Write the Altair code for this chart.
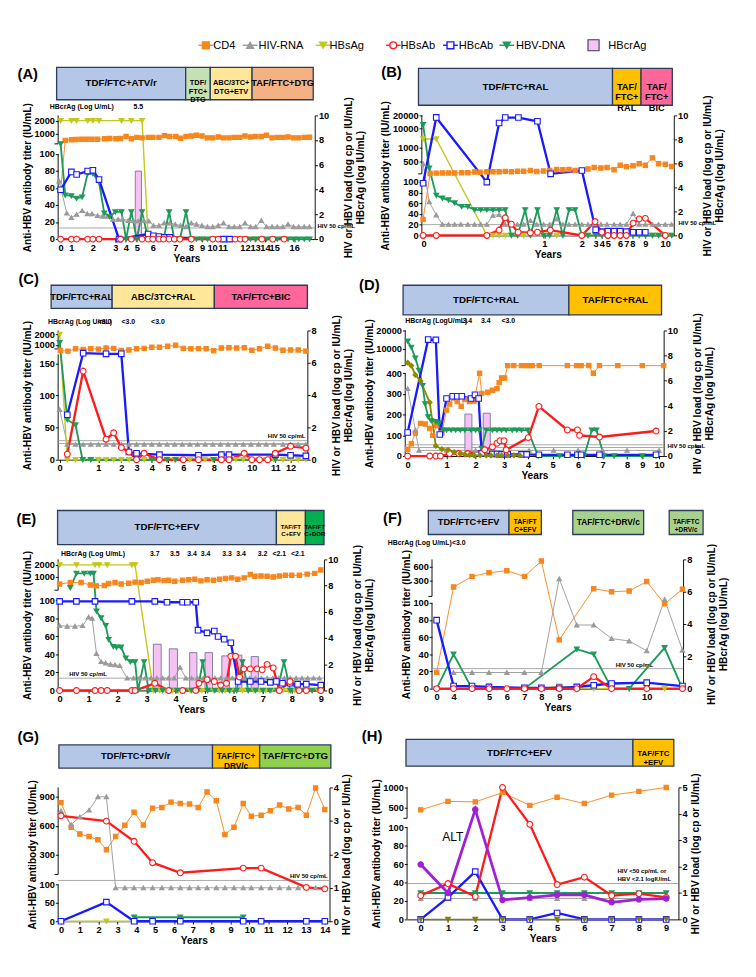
import altair as alt
import numpy as np
import pandas as pd

FONT = "Liberation Sans"

# ---------------- series styling: stroke, fill, shape, line width, marker size ----------------
STYLE = {
    "CD4": ("#f7861c", "#f7861c", "square", 1.0, 22),
    "HIV-RNA": ("#9a9a9a", "#9a9a9a", "triangle-up", 1.0, 22),
    "HBsAg": ("#c2c81c", "#c2c81c", "triangle-down", 1.5, 28),
    "HBV-DNA": ("#1e9a5a", "#1e9a5a", "triangle-down", 2.0, 28),
    "HBcAb": ("#1a1aff", "#ffffff", "square", 2.5, 36),
    "HBsAb": ("#ff1a1a", "#ffffff", "circle", 2.5, 40),
}
DRAW_ORDER = ["CD4", "HIV-RNA", "HBsAg", "HBV-DNA", "HBcAb", "HBsAb"]
RIGHT_AXIS = {"HIV-RNA", "HBV-DNA", "ALT"}
CRAG_FILL, CRAG_STROKE = "#f6c2f3", "#7a7a99"

# legend (top of figure)
LEG_LABELS = ["CD4", "HIV-RNA", "HBsAg", "HBsAb", "HBcAb", "HBV-DNA", "HBcrAg"]
LEG_KEYS = ["CD4", "HIV-RNA", "HBsAg", "HBsAb", "HBcAb", "HBV-DNA", None]
LEG_SYM_X = [160, 208, 287, 363, 425, 486, 580]
LEG_TXT_X = [168, 217, 294, 371, 434, 496, 596]

BLUE, LGREEN, YELLOW, ORANGE = "#b4c7e7", "#c5e0b4", "#ffe699", "#f4b183"
GOLD, PINK, DGREEN, MGREEN, LIME = "#ffc000", "#ff6699", "#00b050", "#a9d18e", "#92d050"

RT2 = ["HIV or HBV load (log cp or IU/mL)", "HBcrAg (log IU/mL)"]
RT1 = "HIV or HBV load (log cp or IU/mL)"

# ================= Panel A =================
A_XTICK_POS = [170, 205, 275, 348, 382, 418, 470, 543, 595, 630, 663, 697, 770, 803, 835, 865, 930]
A_XTICK_LAB = ["0", "1", "2", "3", "4", "5", "6", "7", "8", "9", "10", "11", "12", "13", "14", "15", "16"]
A_REG_X0 = [157, 577, 657, 793]
A_REG_X1 = [577, 657, 793, 992]
A_REG_TXT = ["TDF/FTC+ATV/r", "TDF/\nFTC+\nDTG", "ABC/3TC+\nDTG+ETV", "TAF/FTC+DTG"]
A_REG_COL = [BLUE, LGREEN, YELLOW, ORANGE]
A_DATA = {
    "CD4": ([170, 185, 205, 220, 237, 255, 272, 290, 313, 330, 350, 365, 383, 400, 418, 435, 455, 470, 490, 508,
             525, 545, 560, 578, 595, 612, 630, 648, 665, 683, 700, 718, 735, 753, 770, 788, 805, 823, 840, 858,
             875, 893, 910, 928, 945, 963, 980],
            [58, 700, 720, 730, 740, 740, 745, 740, 760, 770, 760, 770, 860, 760, 820, 800, 820, 820, 820, 900,
             860, 860, 780, 860, 880, 920, 880, 800, 800, 840, 800, 800, 820, 820, 880, 840, 860, 860, 920, 800,
             820, 820, 840, 800, 800, 820, 830]),
    "HIV-RNA": ([165, 190, 205, 222, 240, 257, 272, 290, 307, 323, 340, 357, 372, 390, 407, 422, 440, 457, 472, 490,
                 507, 525, 543, 560, 578, 595, 612, 630, 648, 665, 683, 700, 718, 735, 753, 770, 788, 805, 823, 840,
                 858, 875, 893, 910, 928, 945, 963, 980],
                [4.7, 2.1, 1.75, 2.0, 2.3, 2.05, 2.05, 1.9, 1.85, 1.85, 1.6, 1.6, 1.6, 1.5, 1.5, 1.45, 1.5, 1.45, 1.1, 1.1,
                 1.3, 1.3, 1.2, 1.1, 1.0, 1.3, 1.2, 1.1, 1.0, 1.0, 1.1, 1.3, 1.0, 1.0, 1.0, 1.3, 1.0, 1.0, 1.5, 1.0,
                 1.0, 1.0, 1.0, 1.2, 1.0, 1.0, 1.0, 1.0]),
    "HBsAg": ([170, 205, 222, 258, 275, 295, 368, 400, 435, 455, 472, 490, 507, 525, 543, 560, 595, 630, 665, 683,
               700, 738, 755, 770, 805, 823, 860, 897],
              [2000, 2000, 2000, 2000, 2000, 2000, 2000, 2000, 2000, 0, 0, 0, 0, 0, 0, 0, 0, 0, 0, 0,
               0, 0, 0, 0, 0, 0, 0, 0]),
    "HBsAb": ([170, 205, 222, 258, 275, 295, 365, 400, 435, 455, 470, 490, 505, 523, 540, 558, 595, 665, 683, 738,
               755, 770, 825, 860, 897],
              [0, 0, 0, 0, 0, 0, 0, 0, 0, 0, 0, 0, 0, 0, 0, 0, 0, 0, 0, 0, 0, 0, 0, 0, 0]),
    "HBcAb": ([170, 205, 222, 258, 275, 295, 360, 455, 472, 490, 507, 525, 700, 720],
              [58, 79, 76, 80, 81, 70, 0, 6, 4, 3, 2, 2, 0, 0]),
    "HBV-DNA": ([170, 185, 205, 222, 240, 258, 275, 295, 312, 330, 348, 368, 383, 400, 418, 435, 452, 470, 488, 505,
                 523, 540, 558, 578, 595, 612, 630, 648, 665, 683, 700, 718, 735, 753, 770, 788, 805, 823, 840, 858,
                 875, 893, 910, 928, 945, 963, 980],
                [7.7, 3.55, 3.5, 3.3, 3.4, 5.3, 5.3, 4.6, 2.1, 1.8, 2.2, 2.2, 0, 2.2, 0, 2.2, 0.3, 0, 0, 0,
                 2.2, 0, 0, 2.2, 0, 0, 0, 0, 0, 0, 0, 0, 0, 0, 0, 0, 0, 0, 0, 0,
                 0, 0, 0, 0, 0, 0, 0]),
}
A_BAR_X0, A_BAR_X1, A_BAR_V = [413], [433], [5.5]
A_CRAG_X, A_CRAG_T = [423], ["5.5"]
A_HIV50 = [0.9]

# ================= Panel B =================
B_XTICK_POS = [174, 568, 690, 735, 755, 775, 815, 835, 855, 897, 962]
B_XTICK_LAB = ["0", "1", "2", "3", "4", "5", "6", "7", "8", "9", "10"]
B_REG_X0 = [157, 790, 883]
B_REG_X1 = [790, 883, 985]
B_REG_TXT = ["TDF/FTC+RAL", "TAF/\nFTC+\nRAL", "TAF/\nFTC+\nBIC"]
B_REG_COL = [BLUE, GOLD, PINK]
B_DATA = {
    "CD4": ([172, 195, 215, 235, 255, 275, 298, 318, 340, 358, 380, 400, 420, 440, 460, 480, 500, 522, 543, 565,
             585, 608, 628, 648, 668, 688, 710, 730, 752, 772, 795, 815, 835, 857, 877, 897, 920, 940, 962, 983],
            [30, 280, 285, 287, 287, 287, 290, 290, 300, 297, 305, 305, 305, 310, 305, 312, 312, 325, 308, 315,
             325, 340, 335, 340, 325, 325, 350, 375, 365, 375, 335, 420, 390, 410, 450, 420, 600, 450, 440, 395]),
    "HIV-RNA": ([172, 192, 215, 235, 255, 275, 295, 318, 340, 360, 380, 400, 420, 440, 460, 480, 500, 522, 543, 565,
                 585, 608, 628, 648, 668, 690, 710, 730, 752, 772, 795, 815, 835, 857, 877, 897, 920, 940, 962, 983],
                [5.97, 2.8, 1.7, 0.92, 0.92, 0.92, 0.92, 0.92, 0.92, 0.92, 0.92, 1.67, 1.74, 0.92, 0.92, 0.92, 0.92,
                 1.23, 0.92, 0.92, 0.92, 1.36, 0.92, 0.92, 0.92, 0.92, 0.92, 0.92, 0.92, 0.92, 0.92, 0.92, 0.92,
                 1.82, 0.92, 0.92, 0.92, 0.92, 0.92, 0.92]),
    "HBsAg": ([172, 215, 380, 400, 420, 440, 460, 480, 500, 522, 565, 608, 690, 710, 735, 755, 775, 795, 815, 835,
               855, 877, 897, 920, 940, 962, 983],
              [2800, 2800, 0, 0, 0, 0, 0, 0, 0, 0, 0, 0, 0, 0, 0, 0, 0, 0, 0, 0, 0, 0, 0, 0, 0, 0, 0]),
    "HBsAb": ([172, 215, 380, 420, 440, 460, 482, 522, 545, 587, 690, 733, 755, 775, 795, 815, 835, 857, 877, 897, 962],
              [0, 0, 0, 10, 33, 21, 6, 5, 6, 10, 0, 26, 6, 0, 0, 0, 0, 23, 31, 32, 0]),
    "HBcAb": ([172, 215, 380, 420, 440, 483, 545, 588, 690, 735, 755, 775, 795, 815, 835, 857, 877, 897],
              [98, 18000, 100, 13400, 17900, 17900, 14700, 275, 324, 10.5, 7, 8, 8, 8, 7, 6, 6, 6]),
    "HBV-DNA": ([172, 192, 215, 235, 255, 275, 298, 318, 340, 360, 380, 400, 420, 440, 460, 480, 505, 522, 545, 565,
                 585, 608, 628, 648, 668, 690, 710, 735, 755, 775, 795, 815, 835, 857, 877, 897, 920, 940, 962, 983],
                [9.23, 5.6, 3.33, 3.1, 2.95, 2.7, 2.4, 2.4, 2.13, 2.13, 2.13, 2.13, 2.13, 2.13, 0, 0, 2.13, 0, 2.13, 0,
                 0, 2.13, 0, 2.13, 2.13, 0, 0, 0, 0, 0, 0, 0, 0, 0, 0, 0, 0, 0, 0, 0]),
}
B_BAR_X0, B_BAR_X1, B_BAR_V = [], [], []
B_CRAG_X, B_CRAG_T = [], []
B_HIV50 = [0.9]

# ================= Panel C =================
C_XTICK_POS = [188, 315, 390, 440, 490, 542, 593, 643, 693, 743, 818, 895, 945]
C_XTICK_LAB = ["0", "1", "2", "3", "4", "5", "6", "7", "8", "9", "10", "11", "12"]
C_REG_X0 = [160, 360, 695]
C_REG_X1 = [360, 695, 1000]
C_REG_TXT = ["TDF/FTC+RAL", "ABC/3TC+RAL", "TAF/FTC+BIC"]
C_REG_COL = [BLUE, YELLOW, PINK]
C_DATA = {
    "CD4": ([190, 215, 240, 265, 290, 315, 340, 365, 390, 415, 440, 465, 490, 515, 542, 568, 593, 618, 643, 668,
             693, 718, 743, 768, 793, 818, 843, 870, 895, 920, 945, 970, 995],
            [707, 680, 790, 760, 790, 775, 830, 815, 707, 735, 790, 815, 880, 880, 930, 1000, 815, 790, 800, 790,
             700, 830, 845, 830, 845, 720, 790, 930, 830, 720, 735, 735, 680]),
    "HIV-RNA": ([188, 213, 240, 265, 290, 315, 340, 365, 390, 415, 440, 465, 490, 515, 540, 565, 590, 615, 640, 665,
                 690, 715, 740, 765, 790, 815, 840, 865, 890, 920, 945, 970, 995],
                [3.1, 0.95, 0.95, 0.95, 0.95, 0.95, 0.95, 0.95, 0.95, 0.95, 0.95, 0.95, 0.95, 0.95, 0.95, 0.95, 0.95,
                 0.95, 0.95, 0.95, 0.95, 0.95, 0.95, 0.95, 0.95, 0.95, 0.95, 0.95, 0.95, 0.95, 0.95, 0.95, 0.95]),
    "HBsAg": ([188, 213, 240, 265, 290, 315, 340, 365, 390, 415, 440, 465, 490, 515, 540, 565, 590, 615, 640, 665,
               690, 715, 740, 765, 790, 815, 840, 865, 890, 920, 945, 970, 995],
              [2000, 0, 0, 0, 0, 0, 0, 0, 0, 0, 0, 0, 0, 0, 0, 0, 0, 0, 0, 0, 0, 0, 0, 0, 0, 0, 0, 0, 0, 0, 0, 0, 0]),
    "HBsAb": ([213, 265, 340, 365, 390, 415, 440, 465, 515, 593, 643, 718, 743, 793, 818, 843, 870, 895, 945, 995],
              [8.6, 138, 32, 42, 19, 12, 0, 10, 0, 0, 0, 0, 0, 10, 0, 0, 0, 10, 21, 18]),
    "HBcAb": ([213, 265, 340, 390, 415, 440, 515, 643, 718, 743, 895, 945, 995],
              [70, 166, 165, 165, 12, 10, 8, 7, 8, 8, 8, 7, 6]),
    "HBV-DNA": ([188, 213, 240, 263, 290, 490, 540, 568, 693, 895],
                [7.24, 2.48, 2.15, 0, 0, 0, 0, 0, 0, 0]),
}
C_BAR_X0, C_BAR_X1, C_BAR_V = [], [], []
C_CRAG_X, C_CRAG_T = [335, 413, 510], ["<3.0", "<3.0", "<3.0"]
C_HIV50 = [1.18, 1.0]

# ================= Panel D =================
D_XTICK_POS = [163, 290, 385, 478, 557, 637, 720, 800, 880, 930, 985]
D_XTICK_LAB = ["0", "1", "2", "3", "4", "5", "6", "7", "8", "9", "10"]
D_REG_X0 = [148, 690]
D_REG_X1 = [690, 993]
D_REG_TXT = ["TDF/FTC+RAL", "TAF/FTC+RAL"]
D_REG_COL = [BLUE, GOLD]
D_DATA = {
    "CD4": ([163, 175, 188, 205, 220, 235, 245, 258, 275, 290, 300, 312, 325, 338, 350, 365, 380, 398, 405, 425,
             440, 455, 462, 470, 480, 490, 510, 535, 550, 560, 570, 593, 685, 715, 730, 755, 770, 790, 850, 930, 1000],
            [33, 59, 111, 158, 155, 133, 100, 148, 111, 222, 252, 281, 264, 240, 274, 264, 266, 400, 303, 308,
             318, 326, 355, 377, 377, 430, 430, 430, 430, 430, 430, 430, 430, 430, 430, 435, 400, 430, 430, 430, 430]),
    "HIV-RNA": ([163, 188, 200, 290, 385, 480, 560, 640, 720, 800, 880, 985],
                [5.37, 2.07, 0.45, 0.45, 0.45, 0.45, 0.45, 0.45, 0.45, 0.45, 0.45, 0.45]),
    "HBsAb": ([163, 235, 255, 270, 300, 330, 360, 415, 440, 455, 465, 478, 485, 557, 592, 685, 718, 725, 790, 975],
              [0, 0, 0, 0, 12, 12, 12, 30, 44, 62, 74, 74, 30, 89, 240, 126, 126, 100, 92, 121]),
    "HBcAb": ([163, 230, 255, 268, 290, 310, 325, 340, 370, 383, 395, 405, 440, 455, 470, 490, 535, 552, 592, 685,
               718, 730, 790, 975],
              [114, 14200, 14000, 104, 278, 289, 289, 289, 278, 296, 278, 12, 10, 10, 8, 8, 8, 8, 6, 6,
               6, 6, 6, 6]),
    "HBV-DNA": ([163, 175, 188, 200, 212, 220, 230, 240, 255, 265, 280, 290, 305, 320, 335, 350, 370, 385, 397, 405,
                 420, 440, 455, 470, 485, 505, 520, 535, 555, 590, 660, 740, 765, 780, 805, 838, 930, 975],
                [9.15, 8.66, 7.8, 6.83, 5.61, 4.15, 3.12, 2.8, 2.73, 2.63, 2.07, 2.07, 2.07, 2.07, 2.07, 2.07, 2.07,
                 2.07, 2.07, 0.61, 2.07, 2.07, 2.07, 2.07, 2.07, 2.07, 2.07, 2.07, 2.07, 0, 0, 0, 2.07, 2.07, 0, 0,
                 0, 0]),
}
D_OLIVE_HBSAG = ([163, 175, 188, 205, 235, 255, 275, 295, 315, 335, 350, 365, 380, 400, 420, 435, 455, 470, 490, 510, 530],
                 [755, 430, 392, 363, 259, 49, 33, 30, 19, 12, 7, 5, 3, 3, 3, 3, 3, 3, 3, 3, 3])
D_BAR_X0, D_BAR_X1, D_BAR_V = [350, 410], [373, 433], [3.34, 3.41]
D_CRAG_X, D_CRAG_T = [358, 418, 492], ["3.4", "3.4", "<3.0"]
D_HIV50 = [0.9, 0.68]

# ================= Panel E (years) =================
E_XTICK_POS = [0, 1, 2, 3, 4, 5, 6, 7, 8, 9]
E_XTICK_LAB = ["0", "1", "2", "3", "4", "5", "6", "7", "8", "9"]
E_REG_X0 = [-0.07, 7.47, 8.47]
E_REG_X1 = [7.47, 8.47, 9.11]
E_REG_TXT = ["TDF/FTC+EFV", "TAF/FT\nC+EFV", "TAF/FT\nC+DOR"]
E_REG_COL = [BLUE, YELLOW, DGREEN]
E_DATA = {
    "CD4": ([0, 0.37, 0.74, 1.06, 1.27, 1.54, 1.69, 1.91, 2.12, 2.38, 2.6, 2.81, 3.02, 3.23, 3.39, 3.6, 3.76, 3.97,
             4.24, 4.45, 4.66, 4.87, 5.08, 5.3, 5.51, 5.72, 5.93, 6.14, 6.36, 6.57, 6.73, 6.94, 7.15, 7.36, 7.57,
             7.78, 8.0, 8.26, 8.53, 8.79, 9.0],
            [665, 728, 728, 630, 600, 615, 690, 728, 665, 700, 745, 728, 780, 830, 850, 810, 830, 780, 830, 850,
             880, 800, 850, 830, 880, 920, 950, 880, 950, 1150, 1040, 1060, 1040, 1000, 1060, 1100, 1100, 1100,
             1180, 1230, 1500]),
    "HIV-RNA": ([0, 0.26, 0.53, 0.79, 1.0, 1.12, 1.27, 1.43, 1.59, 1.75, 1.91, 2.07, 2.33, 2.55, 2.75, 2.95, 3.15,
                 3.35, 3.55, 3.75, 3.95, 4.15, 4.35, 4.55, 4.75, 4.95, 5.15, 5.35, 5.55, 5.75, 5.95, 6.15, 6.35, 6.55,
                 6.75, 6.95, 7.15, 7.35, 7.55, 7.75, 7.95, 8.15, 8.35, 8.55, 8.75, 8.95],
                [4.95, 4.9, 4.9, 4.95, 5.6, 5.5, 2.82, 2.2, 2.1, 2.0, 1.95, 1.9, 0.94, 0.94, 0.94, 0.94, 0.94, 0.94,
                 0.94, 0.94, 0.94, 1.76, 0.94, 0.94, 0.94, 0.94, 0.94, 0.94, 0.94, 0.94, 0.94, 0.94, 0.94, 0.94,
                 0.94, 0.94, 0.94, 0.94, 0.94, 0.94, 0.94, 0.94, 0.94, 0.94, 0.94, 0.94]),
    "HBsAg": ([0, 0.58, 1.22, 1.36, 1.64, 2.49, 2.6, 3.23, 3.45, 3.65, 3.9, 4.1, 4.3, 4.5, 4.7, 4.9, 5.1, 5.3, 5.5,
               5.7, 5.9, 6.1, 6.3, 6.5, 6.7, 6.9, 7.1, 7.3, 7.5, 7.7, 7.9, 8.1, 8.3, 8.5, 8.7, 8.9],
              [2000, 2000, 2000, 2000, 2000, 2000, 2000, 0, 0, 0, 0, 0, 0, 0, 0, 0, 0, 0, 0, 0, 0, 0, 0, 0, 0, 0,
               0, 0, 0, 0, 0, 0, 0, 0, 0, 0]),
    "HBsAb": ([0, 0.58, 1.22, 1.43, 1.64, 2.49, 2.6, 3.28, 3.76, 4.24, 4.69, 4.8, 5.08, 5.33, 5.55, 5.75, 5.9, 6.06,
               6.2, 6.35, 6.57, 6.8, 6.98, 7.15, 7.36, 7.57, 7.94, 8.25, 8.5, 9.0],
              [0, 0, 0, 0, 0, 0, 0, 8, 0, 0, 0, 8, 12, 10, 6, 8, 38, 38, 15, 24, 24, 24, 23, 29, 25, 0, 10, 0, 0, 0]),
    "HBcAb": ([0, 0.58, 1.22, 2.49, 3.28, 3.7, 4.24, 4.4, 4.69, 4.77, 5.08, 5.33, 5.46, 5.67, 5.9, 6.15, 6.57, 6.94,
               7.26, 7.47, 7.68, 7.94, 8.2, 8.5, 9.0],
              [99, 99, 99, 99, 99, 98, 98, 98, 98, 67, 64, 66, 60, 57, 53, 10, 10, 10, 9, 10, 8, 8, 7, 7, 6]),
    "HBV-DNA": ([0.37, 0.58, 0.85, 1.06, 1.17, 1.27, 1.43, 1.59, 1.69, 1.85, 1.96, 2.12, 2.28, 2.44, 2.6, 2.7, 2.91,
                 3.07, 3.3, 3.55, 3.8, 4.05, 4.3, 4.55, 4.76, 4.93, 5.1, 5.35, 5.6, 5.85, 6.1, 6.3, 6.5, 6.75, 7.0,
                 7.25, 7.5, 7.73, 7.95, 8.2, 8.45, 8.7, 8.95],
                [7.84, 8.94, 8.94, 8.94, 8.94, 6.05, 5.53, 4.94, 3.88, 3.34, 3.3, 3.3, 2.47, 2.19, 2.19, 0, 2.19, 0,
                 0, 0, 0, 0, 0, 0, 0, 2.19, 0, 0, 0, 0, 0, 2.19, 0, 0, 0, 0, 0, 2.19, 0, 0, 0, 0, 0]),
}
E_BAR_X0 = [3.23, 3.78, 4.48, 5.01, 5.59, 6.06, 6.6]
E_BAR_X1 = [3.5, 4.06, 4.73, 5.27, 5.85, 6.28, 6.85]
E_BAR_V = [3.53, 3.18, 2.89, 2.89, 2.64, 2.7, 2.59]
E_CRAG_X = [3.28, 3.97, 4.56, 5.03, 5.77, 6.25, 6.99, 7.57, 8.21]
E_CRAG_T = ["3.7", "3.5", "3.4", "3.4", "3.3", "3.4", "3.2", "<2.1", "<2.1"]
E_HIV50 = [0.94]

# ================= Panel F =================
F_XTICK_POS = [190, 245, 360, 418, 475, 530, 588, 872]
F_XTICK_LAB = ["0", "4", "5", "6", "7", "8", "9", "10"]
F_REG_X0 = [163, 425, 632, 945]
F_REG_X1 = [425, 530, 862, 1055]
F_REG_TXT = ["TDF/FTC+EFV", "TAF/FT\nC+EFV", "TAF/FTC+DRV/c", "TAF/FTC\n+DRV/c"]
F_REG_COL = [BLUE, GOLD, MGREEN, MGREEN]
F_DATA = {
    "CD4": ([190, 245, 305, 360, 418, 475, 530, 588, 700, 758, 815, 872, 930, 988],
            [19, 216, 367, 441, 486, 367, 787, 57, 198, 171, 177, 283, 99, 193]),
    "HIV-RNA": ([245, 305, 360, 418, 475, 530, 588, 645, 700, 758, 815, 872, 930, 988],
                [1.0, 1.0, 1.0, 1.0, 1.0, 1.0, 6.8, 3.94, 3.94, 3.1, 2.95, 2.34, 5.52, 2.38]),
    "HBsAg": ([190, 245, 305, 360, 418, 475, 530, 588, 645, 700, 758, 815, 872, 930, 988],
              [0, 0, 0, 0, 0, 0, 0, 3, 1, 0, 0, 0, 0, 0, 0]),
    "HBsAb": ([190, 245, 305, 360, 418, 475, 530, 588, 645, 700, 758, 872, 988],
              [0, 0, 0, 0, 0, 0, 0, 0, 0, 14, 0, 0, 0]),
    "HBcAb": ([190, 245, 305, 360, 475, 530, 588, 645, 700, 758, 872, 988],
              [80, 3, 3, 2, 1, 1, 1, 2, 4, 6, 7, 3]),
    "HBV-DNA": ([190, 245, 305, 360, 475, 645, 700, 758, 815, 930, 988],
                [0, 2.13, 0, 0, 0, 2.44, 2.13, 0, 0, 2.53, 0]),
}
F_BAR_X0, F_BAR_X1, F_BAR_V = [], [], []
F_CRAG_X, F_CRAG_T = [262], ["<3.0"]
F_HIV50 = [1.24]

# ================= Panel G (years) =================
G_XTICK_POS = [0, 1, 2, 3, 4, 5, 6, 7, 8, 9, 10, 11, 12, 13, 14]
G_XTICK_LAB = ["0", "1", "2", "3", "4", "5", "6", "7", "8", "9", "10", "11", "12", "13", "14"]
G_REG_X0 = [-0.11, 8.04, 10.54]
G_REG_X1 = [8.04, 10.54, 14.32]
G_REG_TXT = ["TDF/FTC+DRV/r", "TAF/FTC+\nDRV/c", "TAF/FTC+DTG"]
G_REG_COL = [BLUE, GOLD, LIME]
G_VISITS = [0, 0.54, 1.0, 1.49, 1.96, 2.41, 2.9, 3.39, 3.88, 4.37, 4.86, 5.35, 5.84, 6.33, 6.82, 7.28, 7.75,
            8.24, 8.7, 9.18, 9.67, 10.1, 10.62, 11.11, 11.6, 12.09, 12.58, 13.02, 13.51, 14.0]
G_DATA = {
    "CD4": (G_VISITS,
            [840, 586, 517, 490, 458, 355, 490, 607, 740, 610, 783, 790, 845, 830, 825, 790, 950, 860, 512, 586,
             830, 700, 710, 756, 815, 775, 790, 710, 990, 770]),
    "HIV-RNA": (G_VISITS,
                [3.3, 2.89, 3.12, 3.32, 3.72, 3.72, 1.0, 1.0, 1.0, 1.0, 1.0, 1.0, 1.0, 1.0, 1.0, 1.0, 1.0, 1.0, 1.0,
                 1.0, 1.0, 1.0, 1.0, 1.0, 1.0, 1.0, 1.0, 1.0, 1.0, 1.0]),
    "HBsAg": ([0, 2.41, 3.88, 4.86, 6.33, 9.67, 10.62, 13.02, 14.0], [0, 0, 0, 0, 0, 0, 0, 0, 0]),
    "HBsAb": ([0, 2.41, 3.88, 4.86, 6.33, 9.67, 10.62, 13.02, 14.0], [704, 649, 441, 221, 117, 165, 165, 92, 88]),
    "HBcAb": ([0, 2.41, 3.88, 4.86, 6.33, 9.67, 10.62, 13.02, 14.0], [0, 52, 0, 0, 0, 0, 0, 0, 0]),
    "HBV-DNA": ([3.88, 6.33, 9.67], [0.12, 0.12, 0.12]),
}
G_BAR_X0, G_BAR_X1, G_BAR_V = [], [], []
G_CRAG_X, G_CRAG_T = [], []
G_HIV50 = [1.22]

# ================= Panel H (years) =================
H_XTICK_POS = [0, 1, 2, 3, 4, 5, 6, 7, 8, 9]
H_XTICK_LAB = ["0", "1", "2", "3", "4", "5", "6", "7", "8", "9"]
H_REG_X0 = [-0.54, 7.78]
H_REG_X1 = [7.78, 9.28]
H_REG_TXT = ["TDF/FTC+EFV", "TAF/FTC\n+EFV"]
H_REG_COL = [BLUE, GOLD]
H_YEARS = [0, 1, 2, 3, 4, 5, 6, 7, 8, 9]
H_DATA = {
    "CD4": (H_YEARS, [460, 617, 607, 836, 538, 713, 573, 767, 872, 1000]),
    "HIV-RNA": (H_YEARS, [0.79, 0.79, 0.79, 0.79, 0.79, 0.79, 0.79, 0.79, 0.79, 0.79]),
    "HBsAb": (H_YEARS, [26, 39, 25, 1000, 279, 38, 46, 26, 28, 24]),
    "HBcAb": (H_YEARS, [0, 24, 52, 0, 0, 7, 0, 0, 0, 0]),
    "HBV-DNA": (H_YEARS, [1.0, 1.0, 1.0, 1.0, 1.0, 1.0, 1.0, 1.0, 1.0, 1.0]),
}
H_OLIVE_HBSAG = (H_YEARS, [0, 0, 0, 0, 0, 0, 0, 0, 0, 0])
H_ALT = (H_YEARS, [2.08, 1.0, 4.16, 0.74, 0.83, 0.93, 0.93, 0.65, 0.76, 0.79])
H_BAR_X0, H_BAR_X1, H_BAR_V = [], [], []
H_CRAG_X, H_CRAG_T = [], []
H_HIV50 = [1.36]

# ---------------- layout / styling per panel ----------------
LAYOUT = {
    "A": dict(w=278, h=134, ymax=10, rticks=[0, 2, 4, 6, 8, 10], xdom=[162, 997],
              lower_labels=[0, 20, 40, 60, 80, 100], lower_top=(100, 6.875), lower_max=100,
              upper=([1000, 2000], [8.525, 9.575]), upper_labels=[1000, 2000], upper_log=True,
              axis_lo_end=6.875, brk=7.7, reg_y=(-52, -17), reg_fs=[10.5, 8, 8, 10],
              anchor=(-54, 321, -64, 164), xtitle="Years", rtitle=RT2, crag_y=-9,
              notes=[("(A)", -44, -44, "left", 16, "bold"), ("HBcrAg  (Log U/mL)", -9, -9, "left", 7.5, "bold"),
                     ("HIV 50 cp/mL", 281, 120, "left", 6.5, "bold")]),
    "B": dict(w=273, h=130, ymax=10, rticks=[0, 2, 4, 6, 8, 10], xdom=[168, 990],
              lower_labels=[0, 20, 40, 60, 80, 100], lower_top=(100, 4.44), lower_max=100,
              upper=([500, 1000, 10000, 20000], [6.15, 7.33, 8.9, 10]), upper_labels=[500, 1000, 10000, 20000],
              upper_log=True, axis_lo_end=4.44, brk=5.13, reg_y=(-51, -11), reg_fs=[10.5, 10, 10],
              anchor=(-57, 321, -64, 164), xtitle="Years", rtitle=RT2, crag_y=-9,
              notes=[("(B)", -44, -47, "left", 16, "bold"), ("HIV 50 cp/mL", 278, 117, "left", 6.5, "bold")]),
    "C": dict(w=270, h=140, ymax=8, rticks=[0, 2, 4, 6, 8], xdom=[183, 1000],
              lower_labels=[0, 50, 100, 150], lower_top=(150, 5.96), lower_max=175,
              upper=([1000, 2000], [7.09, 7.75]), upper_labels=[1000, 2000], upper_log=True,
              axis_lo_end=6.53, brk=6.86, reg_y=(-49, -24), reg_fs=[10, 10, 10],
              anchor=(-63, 312, -66, 164), xtitle=None, rtitle=RT2, crag_y=-9,
              notes=[("(C)", -43, -55, "left", 16, "bold"), ("HBcrAg  (Log U/mL)", -11, -9, "left", 7.5, "bold"),
                     ("HIV 50 cp/mL", 268, 114, "right", 6.5, "bold")]),
    "D": dict(w=280, h=136, ymax=10, rticks=[0, 2, 4, 6, 8, 10], xdom=[155, 1000],
              lower_labels=[0, 100, 200, 300, 400], lower_top=(400, 6.59), lower_max=420,
              upper=([430, 10000, 20000], [7.2, 8.54, 10]), upper_labels=[10000, 20000], upper_log=True,
              axis_lo_end=6.59, brk=7.2, reg_y=(-49, -17), reg_fs=[10.5, 10.5],
              anchor=(-53, 325, -66, 164), xtitle="Years", rtitle=RT2, crag_y=-10,
              notes=[("(D)", -50, -49, "left", 16, "bold"), ("HBcrAg  (LogU/mL)", 0, -10, "left", 7.5, "bold"),
                     ("HIV 50 cp/mL", 284, 125, "left", 6.5, "bold")]),
    "E": dict(w=288, h=142, ymax=10, rticks=[0, 2, 4, 6, 8, 10], xdom=[-0.05, 9.11],
              lower_labels=[0, 20, 40, 60, 80, 100], lower_top=(100, 6.87), lower_max=100,
              upper=([1000, 2000], [8.66, 9.58]), upper_labels=[1000, 2000], upper_log=True,
              axis_lo_end=6.87, brk=7.65, reg_y=(-53, -16), reg_fs=[10.5, 6.5, 6.5],
              anchor=(-50, 325, -74, 177), xtitle="Years", rtitle=RT2, crag_y=-6,
              notes=[("(E)", -45, -43, "left", 16, "bold"), ("HBcrAg  (Log U/mL)", 3, -6, "left", 7.5, "bold"),
                     ("HIV 50 cp/mL", 12, 124, "left", 6.5, "bold")]),
    "F": dict(w=272, h=140, ymax=8, rticks=[0, 2, 4, 6, 8], xdom=[175, 990],
              lower_labels=[0, 20, 40, 60, 80, 100], lower_top=(100, 5.3), lower_max=100,
              upper=([300, 600], [6.7, 7.56]), upper_labels=[300, 600], upper_log=True,
              axis_lo_end=5.3, brk=5.71, reg_y=(-53, -27), reg_fs=[10, 7.5, 9, 7],
              anchor=(-58, 320, -81, 170), xtitle="Years", rtitle=RT2, crag_y=-18,
              notes=[("(F)", -53, -45, "left", 16, "bold"), ("HBcrAg  (Log U/mL)", -48, -18, "left", 7.5, "bold"),
                     ("HIV 50 cp/mL", 199, 114, "left", 6.5, "bold")]),
    "G": dict(w=294, h=145, ymax=4, rticks=[0, 1, 2, 3, 4], xdom=[-0.15, 14.25],
              lower_labels=[0, 50, 100], lower_top=(100, 1.1), lower_max=100,
              upper=([300, 600, 900], [1.98, 2.85, 3.72]), upper_labels=[300, 600, 900], upper_log=False,
              axis_lo_end=1.1, brk=1.4, reg_y=(-46, -21), reg_fs=[10, 9, 10.5],
              anchor=(-49, 326, -66, 173), xtitle="Years", rtitle=RT1, crag_y=-9,
              notes=[("(G)", -44, -54, "left", 16, "bold"), ("HIV 50 cp/mL", 292, 96, "right", 6.5, "bold")]),
    "H": dict(w=294, h=143, ymax=5, rticks=[0, 1, 2, 3, 4, 5], xdom=[-0.5, 9.45],
              lower_labels=[0, 20, 40, 60, 80, 100], lower_top=(100, 3.48), lower_max=100,
              upper=([500, 1000], [4.24, 5.0]), upper_labels=[500, 1000], upper_log=True,
              axis_lo_end=3.48, brk=3.83, reg_y=(-52, -23), reg_fs=[10.5, 8.5],
              anchor=(-49, 329, -67, 172), xtitle="Years", rtitle=RT1, crag_y=-9,
              notes=[("(H)", -49, -55, "left", 16, "bold"),
                     ("HIV <50 cp/mL or\nHBV <2.1 logIU/mL", 228, 91, "left", 6.5, "bold"),
                     ("ALT", 38, 54, "left", 13, "normal")]),
}

# overrides: (data, stroke, fill, shape, line width, marker size, on right axis)
PANELS = {
    "A": (A_XTICK_POS, A_XTICK_LAB, (A_REG_X0, A_REG_X1, A_REG_TXT, A_REG_COL), A_DATA,
          (A_BAR_X0, A_BAR_X1, A_BAR_V), (A_CRAG_X, A_CRAG_T), A_HIV50, []),
    "B": (B_XTICK_POS, B_XTICK_LAB, (B_REG_X0, B_REG_X1, B_REG_TXT, B_REG_COL), B_DATA,
          (B_BAR_X0, B_BAR_X1, B_BAR_V), (B_CRAG_X, B_CRAG_T), B_HIV50, []),
    "C": (C_XTICK_POS, C_XTICK_LAB, (C_REG_X0, C_REG_X1, C_REG_TXT, C_REG_COL), C_DATA,
          (C_BAR_X0, C_BAR_X1, C_BAR_V), (C_CRAG_X, C_CRAG_T), C_HIV50, []),
    "D": (D_XTICK_POS, D_XTICK_LAB, (D_REG_X0, D_REG_X1, D_REG_TXT, D_REG_COL), D_DATA,
          (D_BAR_X0, D_BAR_X1, D_BAR_V), (D_CRAG_X, D_CRAG_T), D_HIV50,
          [(D_OLIVE_HBSAG, "#8b8b00", "#8b8b00", "diamond", 2.0, 26, False)]),
    "E": (E_XTICK_POS, E_XTICK_LAB, (E_REG_X0, E_REG_X1, E_REG_TXT, E_REG_COL), E_DATA,
          (E_BAR_X0, E_BAR_X1, E_BAR_V), (E_CRAG_X, E_CRAG_T), E_HIV50, []),
    "F": (F_XTICK_POS, F_XTICK_LAB, (F_REG_X0, F_REG_X1, F_REG_TXT, F_REG_COL), F_DATA,
          (F_BAR_X0, F_BAR_X1, F_BAR_V), (F_CRAG_X, F_CRAG_T), F_HIV50, []),
    "G": (G_XTICK_POS, G_XTICK_LAB, (G_REG_X0, G_REG_X1, G_REG_TXT, G_REG_COL), G_DATA,
          (G_BAR_X0, G_BAR_X1, G_BAR_V), (G_CRAG_X, G_CRAG_T), G_HIV50, []),
    "H": (H_XTICK_POS, H_XTICK_LAB, (H_REG_X0, H_REG_X1, H_REG_TXT, H_REG_COL), H_DATA,
          (H_BAR_X0, H_BAR_X1, H_BAR_V), (H_CRAG_X, H_CRAG_T), H_HIV50,
          [(H_OLIVE_HBSAG, "#7f7f00", "#7f7f00", "triangle-down", 1.5, 26, False),
           (H_ALT, "#a020d8", "#a020d8", "circle", 3.0, 34, True)]),
}


def make_mapper(L):
    lo_v, lo_d = L["lower_top"]
    slope = lo_d / lo_v
    up_v, up_d = L["upper"]
    t = np.log10(np.array(up_v, float)) if L["upper_log"] else np.array(up_v, float)
    d = np.array(up_d, float)

    def f(v):
        if v <= L["lower_max"]:
            return v * slope
        tv = np.log10(v) if L["upper_log"] else float(v)
        if tv <= t[0]:
            return float(d[0] + (tv - t[0]) * (d[1] - d[0]) / (t[1] - t[0]))
        if tv >= t[-1]:
            return float(d[-1] + (tv - t[-1]) * (d[-1] - d[-2]) / (t[-1] - t[-2]))
        return float(np.interp(tv, t, d))
    return f


def label_expr(vals, labels, tol):
    parts = [f"abs(datum.value - ({v:.5f})) < {tol} ? '{l}'" for v, l in zip(vals, labels)]
    return " : ".join(parts) + " : ''"


def build_panel(key):
    L = LAYOUT[key]
    xpos, xlab, reg, data, bars, crag, hiv50, overrides = PANELS[key]
    f = make_mapper(L)
    W, H, R = L["w"], L["h"], L["ymax"]
    xscale = alt.Scale(domain=L["xdom"], nice=False, zero=False)
    yscale = alt.Scale(domain=[0, R], nice=False, zero=False)
    xaxis = alt.Axis(values=xpos, labelExpr=label_expr(xpos, xlab, 0.01), title=L["xtitle"],
                     grid=False, tickSize=3, labelPadding=1, titlePadding=1, labelFontSize=10,
                     labelFontWeight="bold", titleFontSize=11, titleFontWeight="bold",
                     labelFlush=False, labelOverlap=False, domainColor="black", tickColor="black")

    def X(field):
        return alt.X(f"{field}:Q", scale=xscale, axis=xaxis)

    def Y(field, axis=None):
        return alt.Y(f"{field}:Q", scale=yscale, axis=axis)

    left_vals = [f(v) for v in L["lower_labels"]] + [f(v) for v in L["upper_labels"]]
    left_labs = [str(v) for v in L["lower_labels"]] + [str(v) for v in L["upper_labels"]]
    # first axis in the layer goes left, the second one goes right
    left_axis = alt.Axis(values=left_vals, labelExpr=label_expr(left_vals, left_labs, 0.001),
                         title="Anti-HBV antibody titer (IU/mL)", domain=False, tickSize=3, labelPadding=1,
                         titlePadding=2, grid=False, labelFontSize=10, labelFontWeight="bold",
                         titleFontSize=11, titleFontWeight="bold", labelOverlap=False, labelFlush=False,
                         tickColor="black")
    right_axis = alt.Axis(values=L["rticks"], format="d", title=L["rtitle"], titleAngle=270,
                          titleBaseline="top", domain=True, domainColor="black", tickSize=3, labelPadding=1,
                          titlePadding=3, grid=False, labelFontSize=10, labelFontWeight="bold",
                          titleFontSize=11, titleFontWeight="bold", tickColor="black", labelFlush=False)

    layers = []
    one = pd.DataFrame({"k": [0]})

    # left-axis line segments (first y axis of the layer -> left)
    adf = pd.DataFrame({"a": [0, L["brk"]], "b": [L["axis_lo_end"], R]})
    layers.append(alt.Chart(adf).mark_rule(color="black", strokeWidth=1).encode(
        x=alt.value(0), y=Y("a", left_axis), y2="b"))

    # HIV 50 reference line spanning the x domain (second y axis of the layer -> right)
    hdf = pd.DataFrame({"h": hiv50, "x0": [L["xdom"][0]] * len(hiv50), "x1": [L["xdom"][1]] * len(hiv50)})
    layers.append(alt.Chart(hdf).mark_rule(color="#8c8c8c", strokeWidth=0.8).encode(
        x=X("x0"), x2="x1", y=Y("h", right_axis)))

    ax0, ax1, ay0, ay1 = L["anchor"]
    layers.append(alt.Chart(one).mark_rule(opacity=0).encode(
        x=alt.value(ax0), x2=alt.value(ax1), y=alt.value(ay0), y2=alt.value(ay1)))

    bdf = pd.DataFrame({"a": [L["brk"]]})
    layers.append(alt.Chart(bdf).mark_rule(color="black", strokeWidth=1).encode(
        x=alt.value(-4), x2=alt.value(0), y=Y("a")))

    # regimen boxes
    ry0, ry1 = L["reg_y"]
    for i in range(len(reg[0])):
        rdf = pd.DataFrame({"x0": [reg[0][i]], "x1": [reg[1][i]], "t": [reg[2][i]],
                            "m": [(reg[0][i] + reg[1][i]) / 2]})
        layers.append(alt.Chart(rdf).mark_rect(fill=reg[3][i], stroke="#2e3c5a", strokeWidth=1.4).encode(
            x=X("x0"), x2="x1", y=alt.value(ry0), y2=alt.value(ry1)))
        layers.append(alt.Chart(rdf).mark_text(
            fontSize=L["reg_fs"][i], fontWeight="bold", lineBreak="\n", color="black", font=FONT,
            lineHeight=L["reg_fs"][i] * 1.15).encode(
            x=X("m"), y=alt.value((ry0 + ry1) / 2), text="t:N"))

    # notes (panel letters, header texts)
    for (txt, nx, ny, al, fs, fw) in L["notes"]:
        layers.append(alt.Chart(one).mark_text(align=al, baseline="middle", fontSize=fs, fontWeight=fw,
                                               lineBreak="\n", color="black", font=FONT).encode(
            x=alt.value(nx), y=alt.value(ny), text=alt.value(txt)))

    # HBcrAg value labels
    if crag[0]:
        cdf = pd.DataFrame({"x": crag[0], "t": crag[1]})
        layers.append(alt.Chart(cdf).mark_text(fontSize=7.5, fontWeight="bold", color="black", font=FONT).encode(
            x=X("x"), y=alt.value(L["crag_y"]), text="t:N"))

    # HBcrAg bars
    if bars[0]:
        bdf2 = pd.DataFrame({"x0": bars[0], "x1": bars[1], "v": bars[2], "z": [0] * len(bars[0])})
        layers.append(alt.Chart(bdf2).mark_rect(fill=CRAG_FILL, stroke=CRAG_STROKE, strokeWidth=1).encode(
            x=X("x0"), x2="x1", y=Y("z"), y2="v"))

    # series
    frames = []
    for s in DRAW_ORDER:
        if s not in data:
            continue
        xs, vs = data[s]
        assert len(xs) == len(vs), (key, s, len(xs), len(vs))
        stroke, fill, shape, lw, size = STYLE[s]
        ys = [v if s in RIGHT_AXIS else f(v) for v in vs]
        frames.append((pd.DataFrame({"x": xs, "y": ys}), stroke, fill, shape, lw, size))
    for (d, stroke, fill, shape, lw, size, on_right) in overrides:
        xs, vs = d
        assert len(xs) == len(vs), key
        ys = [v if on_right else f(v) for v in vs]
        frames.append((pd.DataFrame({"x": xs, "y": ys}), stroke, fill, shape, lw, size))

    for (dfs, stroke, fill, shape, lw, size) in frames:
        layers.append(alt.Chart(dfs).mark_line(color=stroke, strokeWidth=lw).encode(x=X("x"), y=Y("y")))
    for (dfs, stroke, fill, shape, lw, size) in frames:
        layers.append(alt.Chart(dfs).mark_point(shape=shape, filled=True, fill=fill, stroke=stroke,
                                                strokeWidth=1.2, size=size, opacity=1).encode(
            x=X("x"), y=Y("y")))

    return alt.layer(*layers).resolve_axis(y="independent").properties(width=W, height=H)


def build_legend():
    lx = alt.Scale(domain=[0, 756], nice=False, zero=False)
    layers = []
    yc = 8
    for lab, key, sx, tx in zip(LEG_LABELS, LEG_KEYS, LEG_SYM_X, LEG_TXT_X):
        ldf = pd.DataFrame({"s": [sx], "s0": [sx - 8], "s1": [sx + 8], "r0": [sx - 6], "r1": [sx + 6],
                            "t": [tx], "lab": [lab]})
        if key is None:
            layers.append(alt.Chart(ldf).mark_rect(fill=CRAG_FILL, stroke="#3a3a5a", strokeWidth=1.2).encode(
                x=alt.X("r0:Q", scale=lx, axis=None), x2="r1", y=alt.value(yc - 6), y2=alt.value(yc + 6)))
        else:
            stroke, fill, shape, lw, size = STYLE[key]
            layers.append(alt.Chart(ldf).mark_rule(color=stroke, strokeWidth=1.5).encode(
                x=alt.X("s0:Q", scale=lx, axis=None), x2="s1", y=alt.value(yc)))
            layers.append(alt.Chart(ldf).mark_point(shape=shape, filled=True, fill=fill, stroke=stroke,
                                                    strokeWidth=1.5, size=55, opacity=1).encode(
                x=alt.X("s:Q", scale=lx, axis=None), y=alt.value(yc)))
        layers.append(alt.Chart(ldf).mark_text(align="left", baseline="middle", fontSize=12, color="black",
                                               font=FONT).encode(
            x=alt.X("t:Q", scale=lx, axis=None), y=alt.value(yc), text="lab:N"))
    return alt.layer(*layers).properties(width=756, height=17)


row1 = alt.hconcat(build_panel("A"), build_panel("B"), spacing=3)
row2 = alt.hconcat(build_panel("C"), build_panel("D"), spacing=3)
row3 = alt.hconcat(build_panel("E"), build_panel("F"), spacing=3)
row4 = alt.hconcat(build_panel("G"), build_panel("H"), spacing=3)

chart = alt.vconcat(build_legend(), row1, row2, row3, row4, spacing=3).properties(
    padding=0
).configure(font=FONT).configure_view(stroke=None).configure_axis(
    labelFont=FONT, titleFont=FONT, labelColor="black", titleColor="black"
)

chart.save("out.html", embed_options={"renderer": "svg", "actions": False})
